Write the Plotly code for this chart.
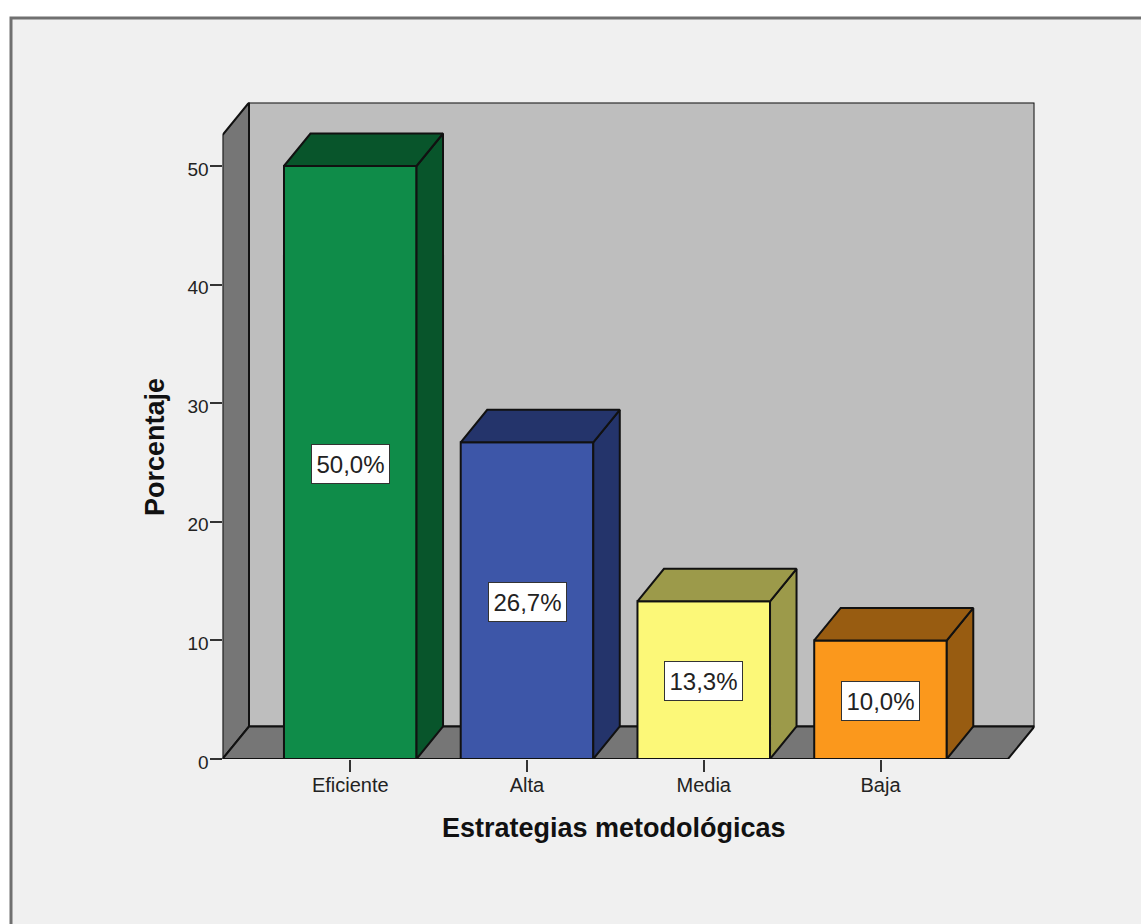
import plotly.graph_objects as go

categories = ["Eficiente", "Alta", "Media", "Baja"]
porcentaje = [50.0, 26.7, 13.3, 10.0]
etiquetas = ["50,0%", "26,7%", "13,3%", "10,0%"]
front_colors = ["#0f8c49", "#3d56a8", "#fcf878", "#fb981c"]
dark_colors = ["#08552b", "#24346b", "#9c9a4a", "#985c11"]
y_ticks = [0, 10, 20, 30, 40, 50]

W, H = 1141, 924
ML, MR, MT, MB = 100, 40, 40, 100
IW, IH = W - ML - MR, H - MT - MB  # inner size, px
PX_X0, PX_X1 = 222.5, 1034.5       # plot area, px
PX_Y0, PX_Y1 = 759.0, 102.5
UX = 176.75                        # px per category
UY = 11.86                         # px per percent
X_CENTER_1 = 350.25
DX = 26.5 / UX                     # depth in axis units
DY = 32.5 / UY
BAR_W = 0.75


def pxx(p):
    return (p - ML) / IW


def pxy(p):
    return (H - MB - p) / IH


xr = [1 - (X_CENTER_1 - PX_X0) / UX, 1 + (PX_X1 - X_CENTER_1) / UX]
yr = [0, (PX_Y0 - PX_Y1) / UY]
xpos = [i + 1 for i in range(len(categories))]
EDGE = dict(color="#111111", width=2)

fig = go.Figure()

# Depth faces of the bars
for x, v, dark in zip(xpos, porcentaje, dark_colors):
    l, r = x - BAR_W / 2, x + BAR_W / 2
    fig.add_trace(go.Scatter(
        x=[r, r + DX, r + DX, r, r], y=[0, DY, v + DY, v, 0],
        mode="lines", fill="toself", fillcolor=dark, line=EDGE,
        hoverinfo="skip", showlegend=False, cliponaxis=False))
    fig.add_trace(go.Scatter(
        x=[l, l + DX, r + DX, r, l], y=[v, v + DY, v + DY, v, v],
        mode="lines", fill="toself", fillcolor=dark, line=EDGE,
        hoverinfo="skip", showlegend=False, cliponaxis=False))

# Front faces
fig.add_trace(go.Bar(
    x=xpos, y=porcentaje, width=BAR_W,
    marker=dict(color=front_colors, line=EDGE),
    cliponaxis=False, showlegend=False,
    hovertemplate="%{y}%<extra></extra>"))


def poly(xs, ys, fill):
    path = "M " + " L ".join(f"{a},{b}" for a, b in zip(xs, ys)) + " Z"
    return dict(type="path", path=path, xref="x", yref="y", fillcolor=fill,
                line=dict(color="#111111", width=2), layer="below")


shapes = [
    # outer frame of the picture
    dict(type="rect", xref="paper", yref="paper", x0=pxx(11), x1=pxx(W + 10),
         y0=pxy(H + 10), y1=pxy(18), fillcolor="#f0f0f0",
         line=dict(color="#707070", width=3), layer="below"),
    # back wall, left wall, floor
    poly([xr[0] + DX, xr[1], xr[1], xr[0] + DX], [DY, DY, yr[1], yr[1]], "#bebebe"),
    poly([xr[0], xr[0] + DX, xr[0] + DX, xr[0]], [0, DY, yr[1], yr[1] - DY], "#767676"),
    poly([xr[0], xr[1] - DX, xr[1], xr[0] + DX], [0, 0, DY, DY], "#767676"),
]

annotations = [
    dict(x=x, y=v / 2, xref="x", yref="y", text=t, showarrow=False, yshift=-1,
         font=dict(family="Liberation Sans", size=24, color="#222222"),
         bgcolor="#ffffff", bordercolor="#333333", borderwidth=1,
         width=75, height=36, align="center", valign="middle")
    for x, v, t in zip(xpos, porcentaje, etiquetas)
]
annotations += [
    dict(x=pxx(614), y=pxy(828), xref="paper", yref="paper", showarrow=False,
         xanchor="center", yanchor="middle",
         text="<b>Estrategias metodológicas</b>",
         font=dict(family="Liberation Sans", size=27, color="#111111")),
    dict(x=pxx(155), y=pxy(447), xref="paper", yref="paper", showarrow=False,
         xanchor="center", yanchor="middle",
         textangle=-90, text="<b>Porcentaje</b>",
         font=dict(family="Liberation Sans", size=27, color="#111111")),
]

fig.update_layout(
    width=W, height=H, margin=dict(l=ML, r=MR, t=MT, b=MB),
    paper_bgcolor="#ffffff", plot_bgcolor="rgba(0,0,0,0)",
    shapes=shapes, annotations=annotations, showlegend=False,
    xaxis=dict(
        domain=[pxx(PX_X0), pxx(PX_X1)], range=xr, tickmode="array",
        tickvals=xpos, ticktext=categories, ticks="outside", ticklen=12,
        tickwidth=2, tickcolor="#333333", showgrid=False, zeroline=False,
        showline=False, ticklabelstandoff=-4,
        tickfont=dict(family="Liberation Sans", size=20, color="#222222")),
    yaxis=dict(
        domain=[pxy(PX_Y0), pxy(PX_Y1)], range=yr, tickmode="array",
        tickvals=y_ticks, ticks="outside", ticklen=12, tickwidth=2,
        tickcolor="#333333", showgrid=False, zeroline=False, showline=False,
        ticklabelstandoff=-3, ticklabelshift=3,
        tickfont=dict(family="Liberation Sans", size=19, color="#222222")),
)

fig.write_html("out.html", config=dict(displayModeBar=False),
               post_script="document.body.style.margin='0';")
